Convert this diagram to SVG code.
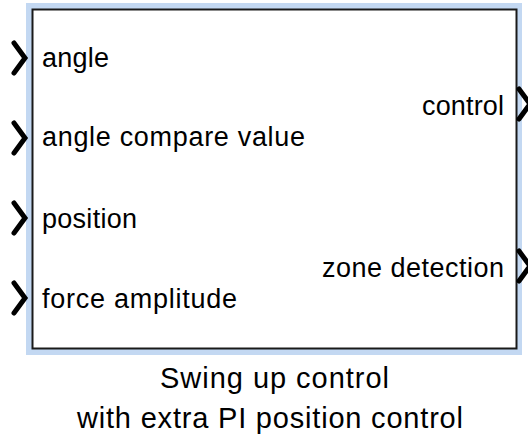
<svg xmlns="http://www.w3.org/2000/svg" width="528" height="439" viewBox="0 0 528 439">
<style>
.lbl{font-family:"Liberation Sans",Arial,sans-serif;font-size:27px;fill:#000}
.cap{font-size:29px}
.port{fill:none;stroke:#000;stroke-width:5;stroke-linecap:round;stroke-linejoin:miter}
</style>
<defs>
<path id="chev" d="M-11,-15 L0,0 L-11,15"/>
</defs>
<rect width="528" height="439" fill="#fff"/>
<g id="block">
<rect x="26" y="3" width="496" height="352" fill="#c3d8f2"/>
<rect x="32.5" y="9.5" width="484" height="339" fill="#fff" stroke="#1a1a1a" stroke-width="2"/>
<text class="lbl" x="42" y="67" textLength="67" lengthAdjust="spacing">angle</text>
<text class="lbl" x="42" y="146" textLength="263" lengthAdjust="spacing">angle compare value</text>
<text class="lbl" x="42" y="228" textLength="95" lengthAdjust="spacing">position</text>
<text class="lbl" x="42" y="308" textLength="195" lengthAdjust="spacing">force amplitude</text>
<text class="lbl" x="504" y="115" text-anchor="end" textLength="82" lengthAdjust="spacing">control</text>
<text class="lbl" x="504" y="277" text-anchor="end" textLength="182" lengthAdjust="spacing">zone detection</text>
<text class="lbl cap" x="160" y="388" textLength="229" lengthAdjust="spacing">Swing up control</text>
<text class="lbl cap" x="77" y="428" textLength="386" lengthAdjust="spacing">with extra PI position control</text>
</g>
<g id="ports" class="port">
<use href="#chev" x="25" y="58"/>
<use href="#chev" x="25" y="138"/>
<use href="#chev" x="25" y="218"/>
<use href="#chev" x="25" y="298"/>
<use href="#chev" x="530" y="104"/>
<use href="#chev" x="530" y="266"/>
</g>
</svg>
